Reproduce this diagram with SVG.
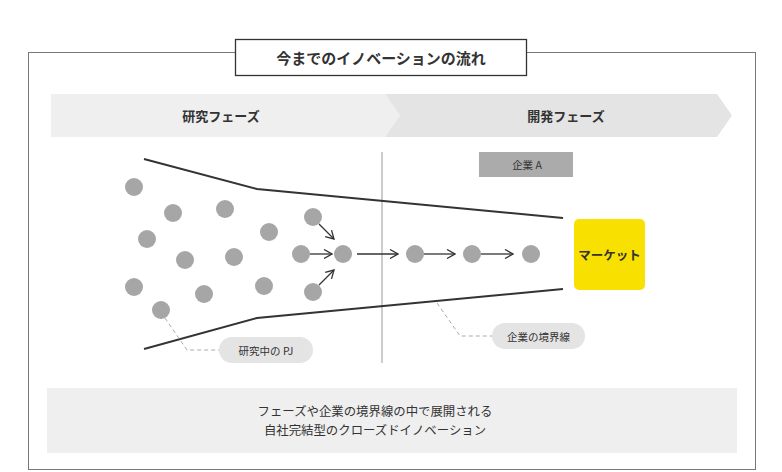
<svg xmlns="http://www.w3.org/2000/svg" width="782" height="472" viewBox="0 0 782 472">
<defs>
<style>
text{font-family:"Noto Sans CJK JP","Noto Sans",sans-serif;fill:#333;text-anchor:middle;dominant-baseline:central}
.b{font-weight:bold}
.dot{fill:#a6a6a6}
.arr{stroke:#333;stroke-width:1.3;fill:none;marker-end:url(#ah)}
.funnel{stroke:#333;stroke-width:2;fill:none}
.lead{stroke:#aaa;stroke-width:1;stroke-dasharray:4 3;fill:none}
.pill{fill:#e4e4e4}
</style>
<marker id="ah" viewBox="0 0 10 10" refX="9" refY="5" markerWidth="10" markerHeight="10" markerUnits="userSpaceOnUse" orient="auto">
<path d="M1,0.5 L9,5 L1,9.5" fill="none" stroke="#333" stroke-width="1.3"/>
</marker>
</defs>
<rect width="782" height="472" fill="#fff"/>
<g id="frame">
<rect x="28.5" y="52.5" width="727" height="417" fill="none" stroke="#777" stroke-width="1"/>
</g>
<g id="title">
<rect x="235.5" y="39.5" width="291" height="36" fill="#fff" stroke="#333" stroke-width="1.3"/>
<text x="381" y="57.5" class="b" font-size="15">今までのイノベーションの流れ</text>
</g>
<g id="phase-research">
<polygon points="51,94 385,94 400,115.5 385,137 51,137" fill="#efefef"/>
<text x="221" y="115.5" class="b" font-size="13">研究フェーズ</text>
</g>
<g id="phase-dev">
<polygon points="385,94 717,94 732,115.5 717,137 385,137 400,115.5" fill="#e4e4e4"/>
<text x="566" y="115.5" class="b" font-size="13">開発フェーズ</text>
</g>
<g id="divider">
<line x1="382" y1="152" x2="382" y2="363" stroke="#999" stroke-width="1"/>
</g>
<g id="company-a">
<rect x="479" y="152" width="94" height="25" fill="#ababab"/>
<text x="527" y="164.5" font-size="10.5">企業 A</text>
</g>
<g id="boundary">
<polyline class="funnel" points="144,159 257,189 563,218"/>
<polyline class="funnel" points="144,349 257,318 563,289"/>
</g>
<g id="projects">
<circle class="dot" cx="134" cy="187" r="9"/>
<circle class="dot" cx="173" cy="213" r="9"/>
<circle class="dot" cx="225" cy="209" r="9"/>
<circle class="dot" cx="147" cy="239" r="9"/>
<circle class="dot" cx="185" cy="260" r="9"/>
<circle class="dot" cx="234" cy="257" r="9"/>
<circle class="dot" cx="269" cy="232" r="9"/>
<circle class="dot" cx="134" cy="287" r="9"/>
<circle class="dot" cx="204" cy="294" r="9"/>
<circle class="dot" cx="264" cy="286" r="9"/>
<circle class="dot" cx="161" cy="310" r="9"/>
<circle class="dot" cx="313" cy="217" r="9"/>
<circle class="dot" cx="301" cy="254" r="9"/>
<circle class="dot" cx="313" cy="292" r="9"/>
<circle class="dot" cx="343" cy="254" r="9"/>
<circle class="dot" cx="415" cy="254" r="9"/>
<circle class="dot" cx="472" cy="254" r="9"/>
<circle class="dot" cx="531" cy="254" r="9"/>
</g>
<g id="market">
<rect x="574" y="219" width="71" height="71" rx="5" fill="#f8e100"/>
<text x="609.5" y="254.5" class="b" font-size="12.5">マーケット</text>
</g>
<g id="connectors">
<line class="arr" x1="319" y1="224" x2="334" y2="239"/>
<line class="arr" x1="310" y1="254" x2="332" y2="254"/>
<line class="arr" x1="319" y1="285" x2="334" y2="270"/>
<line class="arr" x1="357" y1="254" x2="398" y2="254"/>
<line class="arr" x1="424" y1="254" x2="455" y2="254"/>
<line class="arr" x1="481" y1="254" x2="513" y2="254"/>
<polyline class="lead" points="165,318 187,350 219,350"/>
<polyline class="lead" points="437,303 460,336 492,336"/>
</g>
<g id="label-pj">
<rect class="pill" x="219" y="337" width="94" height="26" rx="13"/>
<text x="266" y="350" font-size="10.5">研究中の PJ</text>
</g>
<g id="label-boundary">
<rect class="pill" x="492" y="323" width="93" height="26" rx="13"/>
<text x="538.5" y="336" font-size="10.5">企業の境界線</text>
</g>
<g id="summary">
<rect x="47" y="388" width="690" height="65" fill="#efefef"/>
<text x="375" y="411" font-size="12.4">フェーズや企業の境界線の中で展開される</text>
<text x="375" y="430" font-size="12.4">自社完結型のクローズドイノベーション</text>
</g>
</svg>
